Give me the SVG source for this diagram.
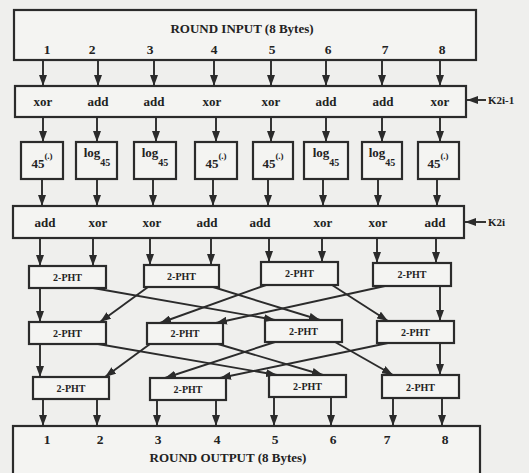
<svg xmlns="http://www.w3.org/2000/svg" width="529" height="473" viewBox="0 0 529 473">
<defs>
<marker id="ah" viewBox="0 0 11 8" refX="11" refY="4" markerWidth="11" markerHeight="8" markerUnits="userSpaceOnUse" orient="auto"><path d="M0,0 L11,4 L0,8 z" fill="#2b2b2b"/></marker>
<style>
.bx{fill:#f4f4f2;stroke:#2b2b2b;stroke-width:2.2}
.t{font-family:"Liberation Serif","Times New Roman",serif;font-weight:bold;fill:#222;text-anchor:middle}
.ttl{font-size:13px}
.num{font-size:13.5px}
.op{font-size:13px}
.s{font-size:13px}
.p{font-size:10px}
.k{font-size:11px;text-anchor:start}
.c line{stroke:#2b2b2b;stroke-width:1.9;fill:none;marker-end:url(#ah)}
</style>
</defs>
<rect width="529" height="473" fill="#efefed"/>

<g id="round-input">
<rect class="bx" x="14" y="10" width="462" height="50"/>
<text class="t ttl" x="242" y="33">ROUND INPUT (8 Bytes)</text>
<text class="t num" x="47" y="54">1</text>
<text class="t num" x="92" y="54">2</text>
<text class="t num" x="150" y="54">3</text>
<text class="t num" x="214" y="54">4</text>
<text class="t num" x="272" y="54">5</text>
<text class="t num" x="328" y="54">6</text>
<text class="t num" x="385" y="54">7</text>
<text class="t num" x="442" y="54">8</text>
</g>

<g id="key-mix-1">
<rect class="bx" x="15" y="86" width="451" height="31"/>
<text class="t op" x="43" y="106">xor</text>
<text class="t op" x="98" y="106">add</text>
<text class="t op" x="154" y="106">add</text>
<text class="t op" x="212" y="106">xor</text>
<text class="t op" x="271" y="106">xor</text>
<text class="t op" x="326" y="106">add</text>
<text class="t op" x="383" y="106">add</text>
<text class="t op" x="440" y="106">xor</text>
</g>
<g id="k2i-1"><text class="t k" x="488" y="104">K2i-1</text></g>

<g id="s1"><rect class="bx" x="21" y="142" width="42" height="37"/><text class="t s" x="42" y="168">45<tspan dy="-9" font-size="9">(.)</tspan></text></g>
<g id="s2"><rect class="bx" x="76" y="142" width="41" height="37"/><text class="t s" x="97" y="157">log<tspan dy="9" font-size="10">45</tspan></text></g>
<g id="s3"><rect class="bx" x="134" y="142" width="42" height="37"/><text class="t s" x="155" y="157">log<tspan dy="9" font-size="10">45</tspan></text></g>
<g id="s4"><rect class="bx" x="195" y="142" width="42" height="37"/><text class="t s" x="216" y="168">45<tspan dy="-9" font-size="9">(.)</tspan></text></g>
<g id="s5"><rect class="bx" x="253" y="142" width="40" height="37"/><text class="t s" x="273" y="168">45<tspan dy="-9" font-size="9">(.)</tspan></text></g>
<g id="s6"><rect class="bx" x="304" y="142" width="44" height="37"/><text class="t s" x="326" y="157">log<tspan dy="9" font-size="10">45</tspan></text></g>
<g id="s7"><rect class="bx" x="362" y="142" width="40" height="37"/><text class="t s" x="382" y="157">log<tspan dy="9" font-size="10">45</tspan></text></g>
<g id="s8"><rect class="bx" x="418" y="142" width="41" height="37"/><text class="t s" x="438" y="168">45<tspan dy="-9" font-size="9">(.)</tspan></text></g>

<g id="key-mix-2">
<rect class="bx" x="13" y="206" width="451" height="32"/>
<text class="t op" x="45" y="227">add</text>
<text class="t op" x="98" y="227">xor</text>
<text class="t op" x="152" y="227">xor</text>
<text class="t op" x="207" y="227">add</text>
<text class="t op" x="260" y="227">add</text>
<text class="t op" x="323" y="227">xor</text>
<text class="t op" x="378" y="227">xor</text>
<text class="t op" x="435" y="227">add</text>
</g>
<g id="k2i"><text class="t k" x="488" y="226">K2i</text></g>

<g id="pht-1-1"><rect class="bx" x="29" y="266" width="77" height="22"/><text class="t p" x="67.5" y="281">2-PHT</text></g>
<g id="pht-1-2"><rect class="bx" x="144" y="265" width="75" height="22"/><text class="t p" x="181.5" y="280">2-PHT</text></g>
<g id="pht-1-3"><rect class="bx" x="261" y="262" width="77" height="23"/><text class="t p" x="299.5" y="277">2-PHT</text></g>
<g id="pht-1-4"><rect class="bx" x="373" y="263" width="78" height="23"/><text class="t p" x="412" y="278">2-PHT</text></g>

<g id="pht-2-1"><rect class="bx" x="29" y="322" width="77" height="22"/><text class="t p" x="67.5" y="337">2-PHT</text></g>
<g id="pht-2-2"><rect class="bx" x="147" y="323" width="76" height="21"/><text class="t p" x="185" y="337">2-PHT</text></g>
<g id="pht-2-3"><rect class="bx" x="265" y="320" width="77" height="22"/><text class="t p" x="303.5" y="335">2-PHT</text></g>
<g id="pht-2-4"><rect class="bx" x="377" y="321" width="77" height="22"/><text class="t p" x="415.5" y="336">2-PHT</text></g>

<g id="pht-3-1"><rect class="bx" x="33" y="377" width="76" height="22"/><text class="t p" x="71" y="392">2-PHT</text></g>
<g id="pht-3-2"><rect class="bx" x="150" y="378" width="76" height="22"/><text class="t p" x="188" y="393">2-PHT</text></g>
<g id="pht-3-3"><rect class="bx" x="269" y="375" width="77" height="22"/><text class="t p" x="307.5" y="390">2-PHT</text></g>
<g id="pht-3-4"><rect class="bx" x="382" y="375" width="77" height="23"/><text class="t p" x="420.5" y="391">2-PHT</text></g>

<g id="round-output">
<rect class="bx" x="13" y="426" width="467" height="60"/>
<text class="t num" x="47" y="444">1</text>
<text class="t num" x="100" y="444">2</text>
<text class="t num" x="158" y="444">3</text>
<text class="t num" x="217" y="444">4</text>
<text class="t num" x="275" y="444">5</text>
<text class="t num" x="333" y="444">6</text>
<text class="t num" x="387" y="444">7</text>
<text class="t num" x="445" y="444">8</text>
<text class="t ttl" x="228" y="462">ROUND OUTPUT (8 Bytes)</text>
</g>

<g id="connectors" class="c">
<line x1="43" y1="60" x2="43" y2="86"/>
<line x1="98" y1="60" x2="98" y2="86"/>
<line x1="154" y1="60" x2="154" y2="86"/>
<line x1="214" y1="60" x2="214" y2="86"/>
<line x1="271" y1="60" x2="271" y2="86"/>
<line x1="326" y1="60" x2="326" y2="86"/>
<line x1="382" y1="60" x2="382" y2="86"/>
<line x1="440" y1="60" x2="440" y2="86"/>
<line x1="486" y1="100" x2="467" y2="100"/>

<line x1="43" y1="117" x2="43" y2="142"/>
<line x1="97" y1="117" x2="97" y2="142"/>
<line x1="156" y1="117" x2="156" y2="142"/>
<line x1="216" y1="117" x2="216" y2="142"/>
<line x1="271" y1="117" x2="271" y2="142"/>
<line x1="326" y1="117" x2="326" y2="142"/>
<line x1="382" y1="117" x2="382" y2="142"/>
<line x1="440" y1="117" x2="440" y2="142"/>

<line x1="42" y1="179" x2="42" y2="206"/>
<line x1="97" y1="179" x2="97" y2="206"/>
<line x1="153" y1="179" x2="153" y2="206"/>
<line x1="213" y1="179" x2="213" y2="206"/>
<line x1="268" y1="179" x2="268" y2="206"/>
<line x1="323" y1="179" x2="323" y2="206"/>
<line x1="378" y1="179" x2="378" y2="206"/>
<line x1="437" y1="179" x2="437" y2="206"/>
<line x1="486" y1="222" x2="465" y2="222"/>

<line x1="40" y1="238" x2="40" y2="266"/>
<line x1="93" y1="238" x2="93" y2="266"/>
<line x1="150" y1="238" x2="150" y2="265"/>
<line x1="211" y1="238" x2="211" y2="265"/>
<line x1="269" y1="238" x2="269" y2="262"/>
<line x1="322" y1="238" x2="322" y2="262"/>
<line x1="377" y1="238" x2="377" y2="263"/>
<line x1="436" y1="238" x2="436" y2="263"/>

<line x1="40" y1="288" x2="40" y2="322"/>
<line x1="93" y1="288" x2="275" y2="320"/>
<line x1="148" y1="287" x2="100" y2="322"/>
<line x1="213" y1="287" x2="320" y2="320"/>
<line x1="266" y1="285" x2="160" y2="323"/>
<line x1="332" y1="285" x2="388" y2="321"/>
<line x1="385" y1="286" x2="216" y2="323"/>
<line x1="440" y1="286" x2="440" y2="321"/>

<line x1="40" y1="344" x2="40" y2="377"/>
<line x1="98" y1="344" x2="277" y2="375"/>
<line x1="150" y1="344" x2="105" y2="377"/>
<line x1="218" y1="344" x2="323" y2="375"/>
<line x1="275" y1="342" x2="165" y2="378"/>
<line x1="335" y1="342" x2="393" y2="375"/>
<line x1="388" y1="343" x2="220" y2="378"/>
<line x1="440" y1="343" x2="440" y2="375"/>

<line x1="43" y1="399" x2="43" y2="426"/>
<line x1="97" y1="399" x2="97" y2="426"/>
<line x1="157" y1="400" x2="157" y2="426"/>
<line x1="216" y1="400" x2="216" y2="426"/>
<line x1="274" y1="397" x2="274" y2="426"/>
<line x1="331" y1="397" x2="331" y2="426"/>
<line x1="393" y1="398" x2="393" y2="426"/>
<line x1="442" y1="398" x2="442" y2="426"/>
</g>
</svg>
